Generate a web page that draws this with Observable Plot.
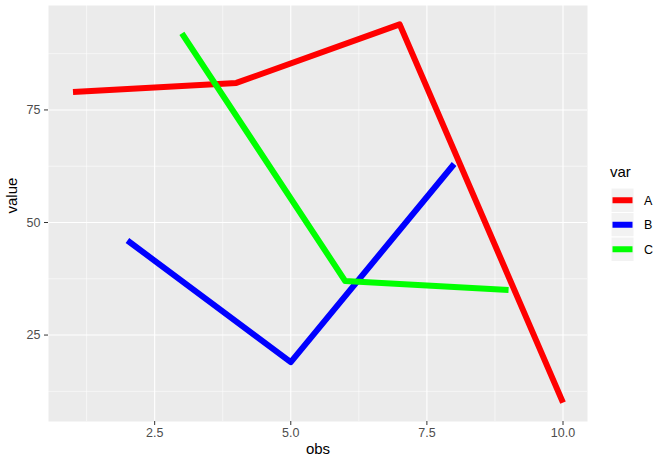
<!DOCTYPE html>
<html>
<head>
<meta charset="utf-8">
<script src="https://cdn.jsdelivr.net/npm/d3@7"></script>
<script src="https://cdn.jsdelivr.net/npm/@observablehq/plot@0.6"></script>
<style>
  html, body { margin: 0; padding: 0; background: #ffffff; }
  #chart { width: 661px; height: 461px; }
</style>
</head>
<body>
<div id="chart"></div>
<script>
// ---- data ----
const categories = ["A", "B", "C"];
const colors = ["#FF0000", "#0000FF", "#00FF00"];
const obsA = [1, 4, 7, 10];
const valA = [79, 81, 94, 10];
const obsB = [2, 5, 8];
const valB = [46, 19, 63];
const obsC = [3, 6, 9];
const valC = [92, 37, 35];
const xTicks = [2.5, 5, 7.5, 10];
const yTicks = [25, 50, 75];
const xMinor = [1.25, 3.75, 6.25, 8.75];
const yMinor = [12.5, 37.5, 62.5, 87.5];

const data = [
  ...obsA.map((o, i) => ({obs: o, value: valA[i], var: "A"})),
  ...obsB.map((o, i) => ({obs: o, value: valB[i], var: "B"})),
  ...obsC.map((o, i) => ({obs: o, value: valC[i], var: "C"}))
];

const font = "'Liberation Sans', Arial, Helvetica, sans-serif";
const W = 661, H = 461;

const plot = Plot.plot({
  width: W,
  height: H,
  marginLeft: 48,
  marginRight: 74,
  marginTop: 5,
  marginBottom: 40,
  style: {fontFamily: font, fontSize: "12.5px", background: "#ffffff", overflow: "visible"},
  x: {domain: [0.55, 10.45]},
  y: {domain: [5.8, 98.2]},
  color: {domain: categories, range: colors},
  marks: [
    Plot.frame({fill: "#EBEBEB", stroke: null}),
    Plot.ruleX(xMinor, {stroke: "#ffffff", strokeWidth: 0.55}),
    Plot.ruleY(yMinor, {stroke: "#ffffff", strokeWidth: 0.55}),
    Plot.ruleX(xTicks, {stroke: "#ffffff", strokeWidth: 1.1}),
    Plot.ruleY(yTicks, {stroke: "#ffffff", strokeWidth: 1.1}),
    Plot.line(data, {x: "obs", y: "value", z: "var", stroke: "var", strokeWidth: 6, strokeLinecap: "butt", strokeLinejoin: "round"}),
    Plot.axisX({ticks: xTicks, tickFormat: d => d.toFixed(1), tickSize: 4, tickPadding: 3, stroke: "#333333", fill: "#4D4D4D", fontSize: 12.5, label: null}),
    Plot.axisY({ticks: yTicks, tickSize: 4, tickPadding: 4, stroke: "#333333", fill: "#4D4D4D", fontSize: 12.5, label: null}),
    Plot.text(["obs"], {frameAnchor: "bottom", dy: 32, fontSize: 15, fill: "#000000", text: d => d}),
    Plot.text(["value"], {frameAnchor: "left", dx: -36, rotate: -90, fontSize: 15, fill: "#000000", text: d => d})
  ]
});

// legend drawn in the right margin
const svg = d3.select(plot);
const lg = svg.append("g").attr("font-family", font).attr("text-anchor", "start");
lg.append("text").attr("x", 610).attr("y", 177).attr("font-size", 15).attr("fill", "#000").text("var");
const keyH = 24.5, keyTop = 188, keyX = 611, keyW = 23;
categories.forEach((c, i) => {
  const y0 = keyTop + i * keyH;
  lg.append("rect").attr("x", keyX).attr("y", y0).attr("width", keyW).attr("height", keyH)
    .attr("fill", "#F2F2F2").attr("stroke", "#ffffff").attr("stroke-width", 1);
  lg.append("line").attr("x1", keyX + 1.5).attr("x2", keyX + keyW - 1.5)
    .attr("y1", y0 + keyH / 2).attr("y2", y0 + keyH / 2)
    .attr("stroke", plot.scale("color").apply(c)).attr("stroke-width", 6);
  lg.append("text").attr("x", 644).attr("y", y0 + keyH / 2).attr("dy", "0.35em")
    .attr("font-size", 12.5).attr("fill", "#000").text(c);
});

document.getElementById("chart").appendChild(plot);
</script>
</body>
</html>
